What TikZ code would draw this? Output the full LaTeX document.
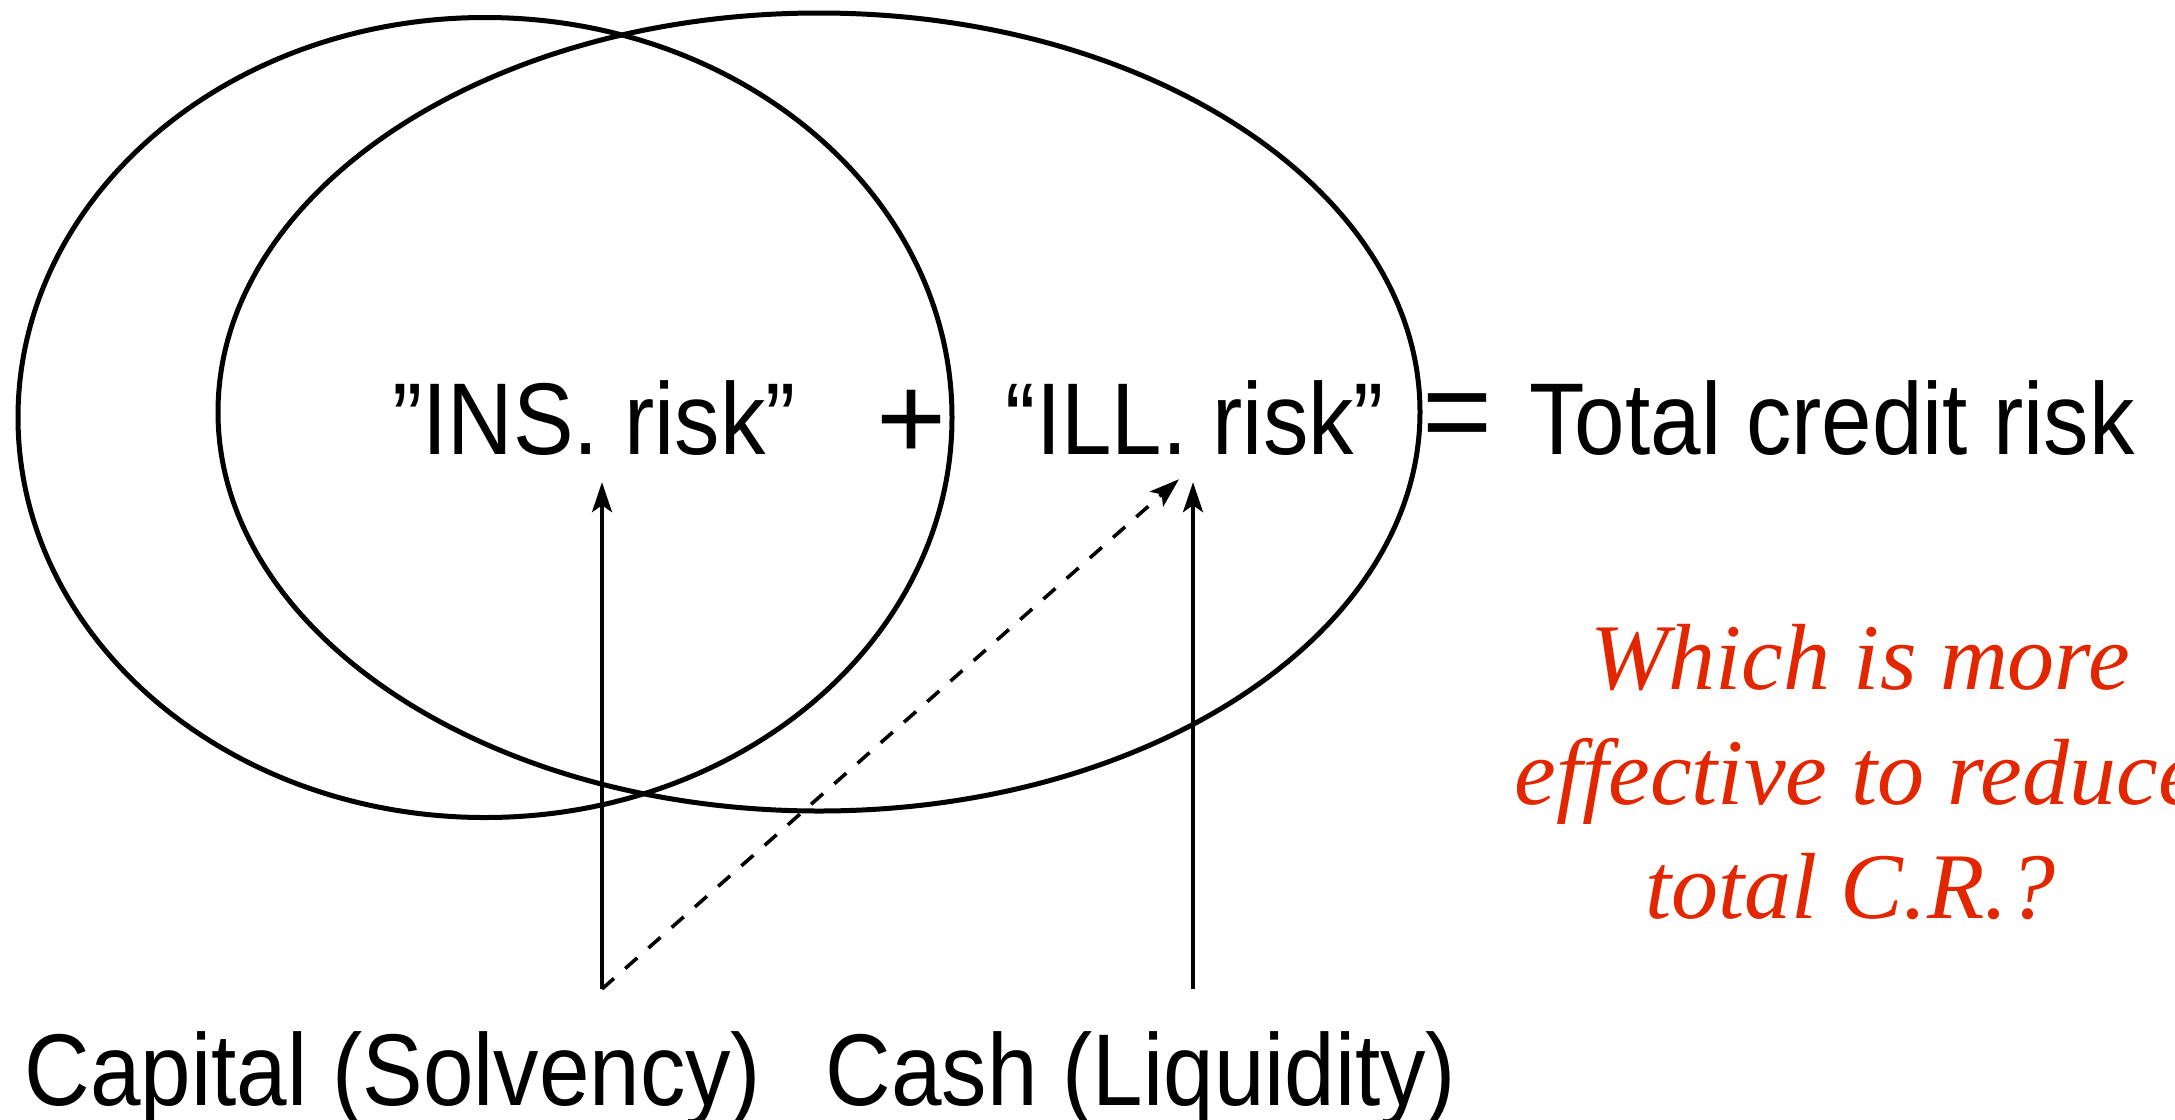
\documentclass[tikz,border=0pt]{standalone}
\usepackage{fontspec}
\setmainfont{Liberation Sans}
\newfontfamily\lab[FakeStretch=0.89]{Liberation Sans}
\newfontfamily\ques{Liberation Serif}
\usetikzlibrary{arrows.meta,calc}
\definecolor{qred}{RGB}{226,38,0}
\begin{document}
\begin{tikzpicture}[x=1pt,y=-1pt,
  ring/.style={draw=black,line width=5pt},
  lbl/.style={inner sep=0pt,anchor=base,font=\lab\fontsize{102}{120}\selectfont},
  sym/.style={inner sep=0pt,font=\fontsize{120}{130}\selectfont},
  qline/.style={inner sep=0pt,anchor=base,text=qred,font=\ques\itshape\fontsize{94}{115}\selectfont},
  arr/.style={line width=3.6pt,-{Stealth[length=30pt,width=20pt,inset=7pt]}},
  dsh/.style={dash pattern=on 16pt off 15pt}]
\useasboundingbox (0,0) rectangle (2175,1119);
\draw[ring] (485,417.5) ellipse [x radius=467, y radius=400];
\draw[ring] (819,412) ellipse [x radius=601, y radius=399];
\node[lbl] (ins) at (594,454) {”INS. risk”};
\node[sym] (plus) at (912,425) {+};
\node[lbl] (ill) at (1195,454) {“ILL. risk”};
\node[sym] (eq) at (1458,423) {=};
\node[lbl] (tot) at (1832,454) {Total credit risk};
\node[lbl] (cap) at (393,1105) {Capital (Solvency)};
\node[lbl] (cash) at (1141,1105) {Cash (Liquidity)};
\node[qline] (q1) at (1860,689) {Which is more};
\node[qline] (q2) at (1857,804) {effective to reduce};
\node[qline] (q3) at (1850,918) {total C.R.?};
\coordinate (capt) at (602,989);
\coordinate (casht) at (1193,989);
\draw[arr,shorten >=27pt] (capt) -- (capt |- ins.south);
\draw[arr,shorten >=27pt] (casht) -- (casht |- ill.south);
\draw[arr,dsh] (capt) -- ($(ill.south)+(-16,24)$);
\end{tikzpicture}
\end{document}
